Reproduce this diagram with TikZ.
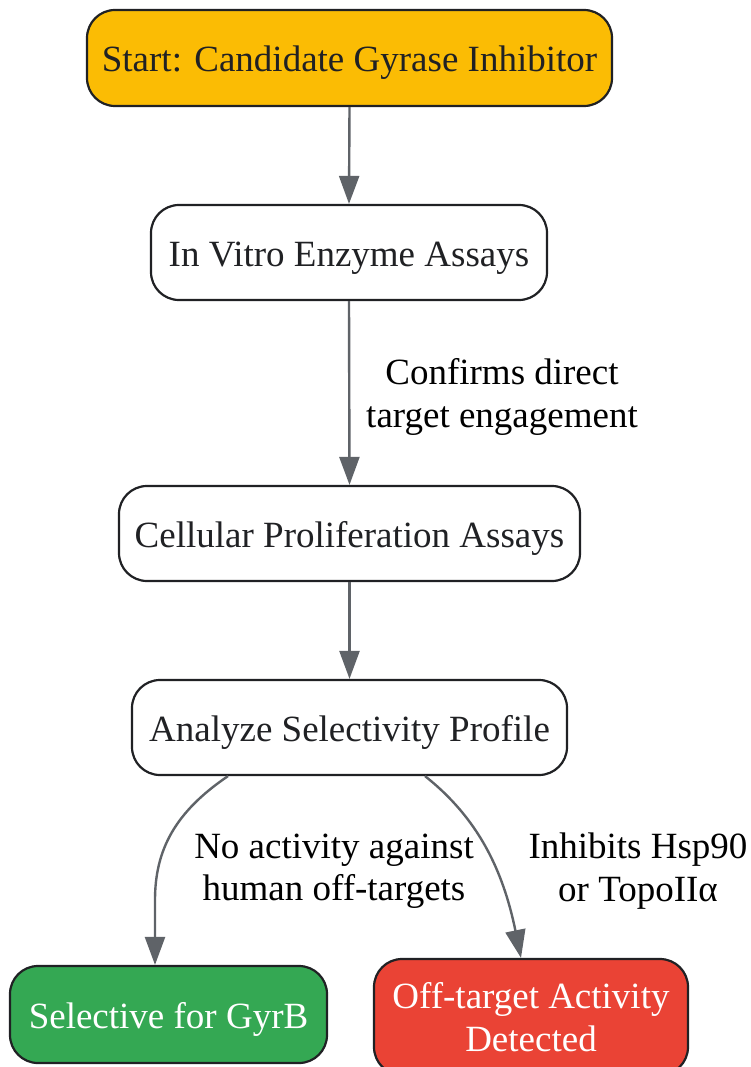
\documentclass[tikz,border=0pt]{standalone}
\usepackage{fontspec}
\setmainfont{Liberation Serif}
\usetikzlibrary{arrows.meta}
\definecolor{ink}{HTML}{202124}
\definecolor{edgec}{HTML}{5F6368}
\definecolor{startc}{HTML}{FBBC04}
\definecolor{goodc}{HTML}{34A853}
\definecolor{badc}{HTML}{EA4335}
\begin{document}
\begin{tikzpicture}[x=1pt,y=-1pt,
  box/.style={draw=ink, line width=2.2pt, rounded corners=28pt, align=center,
    text=ink, font=\fontsize{37}{42.5}\selectfont, inner sep=0pt, minimum height=95pt},
  oneline/.style={text height=36pt, text depth=8pt},
  conn/.style={draw=edgec, line width=2.4pt, -{Triangle[length=28pt,width=20pt]}},
  lbl/.style={align=center, text=black, font=\fontsize{37}{42.5}\selectfont, inner sep=0pt}]
\useasboundingbox (0,0) rectangle (750,1067);
\node[box, oneline, fill=startc, minimum width=525pt, minimum height=96pt] (start) at (349.5,58) {Start: Candidate Gyrase Inhibitor};
\node[box, oneline, fill=white, minimum width=396pt] (vitro) at (349,252.5) {In Vitro Enzyme Assays};
\node[box, oneline, fill=white, minimum width=461pt] (cell) at (349.5,533.5) {Cellular Proliferation Assays};
\node[box, oneline, fill=white, minimum width=435pt] (anal) at (349.5,727.5) {Analyze Selectivity Profile};
\node[box, oneline, fill=goodc, text=white, minimum width=317pt, minimum height=97pt] (sel) at (168.5,1014.5) {Selective for GyrB};
\node[box, fill=badc, text=white, minimum width=314pt, minimum height=116pt] (off) at (531,1017) {Off-target Activity\\Detected};
\draw[conn] (start.south) -- (vitro.north);
\draw[conn] (vitro.south) -- (cell.north);
\draw[conn] (cell.south) -- (anal.north);
\coordinate (aL) at ([xshift=-121.5pt]anal.south);
\coordinate (aR) at ([xshift=75.5pt]anal.south);
\coordinate (sT) at ([xshift=-13.5pt]sel.north);
\coordinate (oT) at ([xshift=-10pt]off.north);
\draw[conn] (aL) .. controls (175,812) and (155,850) .. (155,900) -- (sT);
\draw[conn] (aR) .. controls (478,818) and (503,870) .. (oT);
\node[lbl] (l1) at (502,397) {Confirms direct\\target engagement};
\node[lbl] (l2) at (334,871) {No activity against\\human off-targets};
\node[lbl] (l3) at (638,871) {Inhibits Hsp90\\or TopoIIα};
\end{tikzpicture}
\end{document}
